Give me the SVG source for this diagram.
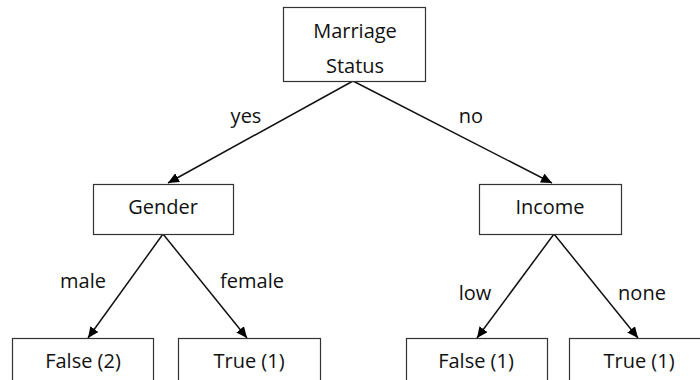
<svg xmlns="http://www.w3.org/2000/svg" width="700" height="380" viewBox="0 0 700 380">
<defs>
<marker id="arr" markerWidth="12" markerHeight="12" refX="11" refY="5" orient="auto" markerUnits="userSpaceOnUse">
<path d="M0,0 L11,5 L0,10 Z" fill="#000"/>
</marker>
<style>
.box{fill:#fff;stroke:#333;stroke-width:1.2}
.t{font-family:"Open Sans","Liberation Sans",sans-serif;font-size:20px;fill:#111;text-anchor:middle}
.e{stroke:#111;stroke-width:1.5;fill:none;marker-end:url(#arr)}
</style>
</defs>
<rect width="700" height="380" fill="#fff"/>
<g id="connectors">
<line class="e" x1="353" y1="81" x2="168" y2="183"/>
<line class="e" x1="353" y1="81" x2="552" y2="183"/>
<line class="e" x1="163" y1="234" x2="88" y2="338"/>
<line class="e" x1="163" y1="234" x2="247" y2="338"/>
<line class="e" x1="554" y1="234" x2="477" y2="338"/>
<line class="e" x1="554" y1="234" x2="638" y2="338"/>
<text class="t" x="246" y="123">yes</text>
<text class="t" x="471" y="123">no</text>
<text class="t" x="83" y="288">male</text>
<text class="t" x="252" y="288">female</text>
<text class="t" x="475" y="300">low</text>
<text class="t" x="642" y="300">none</text>
</g>
<g id="marriage">
<rect class="box" x="283.5" y="7.5" width="142" height="74"/>
<text class="t" x="355" y="38">Marriage</text>
<text class="t" x="355" y="73">Status</text>
</g>
<g id="gender">
<rect class="box" x="93.5" y="184.5" width="140" height="50"/>
<text class="t" x="163" y="214">Gender</text>
</g>
<g id="income">
<rect class="box" x="479.5" y="184.5" width="142" height="50"/>
<text class="t" x="550" y="214">Income</text>
</g>
<g id="false2">
<rect class="box" x="12.5" y="338.5" width="141" height="60"/>
<text class="t" x="83" y="368">False (2)</text>
</g>
<g id="true1a">
<rect class="box" x="178.5" y="338.5" width="142" height="60"/>
<text class="t" x="249" y="368">True (1)</text>
</g>
<g id="false1">
<rect class="box" x="406.5" y="338.5" width="141" height="60"/>
<text class="t" x="476" y="368">False (1)</text>
</g>
<g id="true1b">
<rect class="box" x="569.5" y="338.5" width="142" height="60"/>
<text class="t" x="639" y="368">True (1)</text>
</g>
</svg>
